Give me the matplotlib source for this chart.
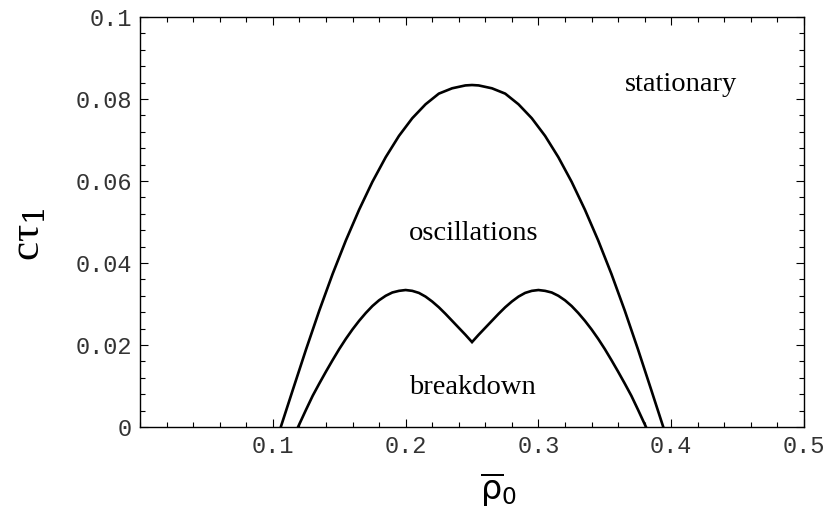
import matplotlib
matplotlib.use("Agg")
from matplotlib import pyplot as plt
from matplotlib.ticker import MultipleLocator, FixedLocator

# outer boundary: stationary / oscillations
rho_outer = [0.106, 0.115, 0.125, 0.135, 0.145, 0.155, 0.165, 0.175, 0.185, 0.195,
             0.205, 0.215, 0.225, 0.235, 0.245, 0.250,
             0.255, 0.265, 0.275, 0.285, 0.295, 0.305, 0.315, 0.325, 0.335,
             0.345, 0.355, 0.365, 0.375, 0.385, 0.394]
ct_outer = [0.0, 0.0090, 0.0189, 0.0284, 0.0373, 0.0455, 0.0530, 0.0598, 0.0658, 0.0710,
            0.0753, 0.0787, 0.0813, 0.0826, 0.0833, 0.0834,
            0.0833, 0.0826, 0.0813, 0.0787, 0.0753, 0.0710, 0.0658, 0.0598, 0.0530,
            0.0455, 0.0373, 0.0284, 0.0189, 0.0090, 0.0]

# inner boundary: oscillations / breakdown
rho_inner = [0.119, 0.125, 0.130, 0.135, 0.140, 0.145, 0.150, 0.155, 0.160, 0.165,
             0.170, 0.175, 0.180, 0.185, 0.190, 0.195, 0.200, 0.205, 0.210, 0.215,
             0.220, 0.225, 0.230, 0.235, 0.240, 0.245, 0.250,
             0.255, 0.260, 0.265, 0.270, 0.275, 0.280, 0.285, 0.290, 0.295, 0.300,
             0.305, 0.310, 0.315, 0.320, 0.325, 0.330, 0.335, 0.340, 0.345, 0.350,
             0.355, 0.360, 0.365, 0.370, 0.375, 0.381]
ct_inner = [0.0, 0.0042, 0.0076, 0.0106, 0.0135, 0.0163, 0.0190, 0.0215, 0.0238, 0.0259,
            0.0278, 0.0295, 0.0309, 0.0320, 0.0328, 0.0332, 0.0334, 0.0332, 0.0327, 0.0318,
            0.0306, 0.0292, 0.0276, 0.0259, 0.0242, 0.0225, 0.0207,
            0.0225, 0.0242, 0.0259, 0.0276, 0.0292, 0.0306, 0.0318, 0.0327, 0.0332, 0.0334,
            0.0332, 0.0328, 0.0320, 0.0309, 0.0295, 0.0278, 0.0259, 0.0238, 0.0215, 0.0190,
            0.0163, 0.0135, 0.0106, 0.0076, 0.0042, 0.0]

x_ticks = [0.1, 0.2, 0.3, 0.4, 0.5]
x_labels = ["0.1", "0.2", "0.3", "0.4", "0.5"]
y_ticks = [0.0, 0.02, 0.04, 0.06, 0.08, 0.1]
y_labels = ["0", "0.02", "0.04", "0.06", "0.08", "0.1"]

regions = ["stationary", "oscillations", "breakdown"]
region_pos = [(0.407, 0.0835), (0.251, 0.0473), (0.250, 0.0097)]

fig = plt.figure(figsize=(8.3, 5.25), dpi=100)
ax = fig.add_axes([0.1687, 0.1867, 0.8, 0.781])

ax.plot(rho_outer, ct_outer, color="black", lw=1.9, solid_joinstyle="round")
ax.plot(rho_inner, ct_inner, color="black", lw=1.9, solid_joinstyle="miter")

ax.set_xlim(0, 0.5)
ax.set_ylim(0, 0.1)

ax.xaxis.set_major_locator(FixedLocator(x_ticks))
ax.set_xticklabels(x_labels)
ax.xaxis.set_minor_locator(MultipleLocator(0.02))
ax.yaxis.set_major_locator(FixedLocator(y_ticks))
ax.set_yticklabels(y_labels)
ax.yaxis.set_minor_locator(MultipleLocator(0.004))

ax.tick_params(which="both", direction="in", top=True, right=True, width=0.8)
ax.tick_params(which="major", length=6, pad=6, labelsize=17, labelcolor="#333333")
ax.tick_params(which="minor", length=3.5)
for lab in ax.get_xticklabels() + ax.get_yticklabels():
    lab.set_family("Liberation Mono")
for sp in ax.spines.values():
    sp.set_linewidth(1.0)

for name, (px, py) in zip(regions, region_pos):
    ax.text(px, py, name, ha="center", va="center", fontsize=20.5,
            family="Liberation Serif")

ax.set_xlabel(r"$\overline{\mathrm{\rho}}_0$", fontsize=24,
              math_fontfamily="dejavusans")
ax.xaxis.set_label_coords(0.54, -0.105)
ax.set_ylabel("cτ$_1$", fontsize=31, family="Liberation Serif",
              math_fontfamily="dejavuserif")
ax.yaxis.set_label_coords(-0.138, 0.47)

fig.savefig("out.png", dpi=100)
